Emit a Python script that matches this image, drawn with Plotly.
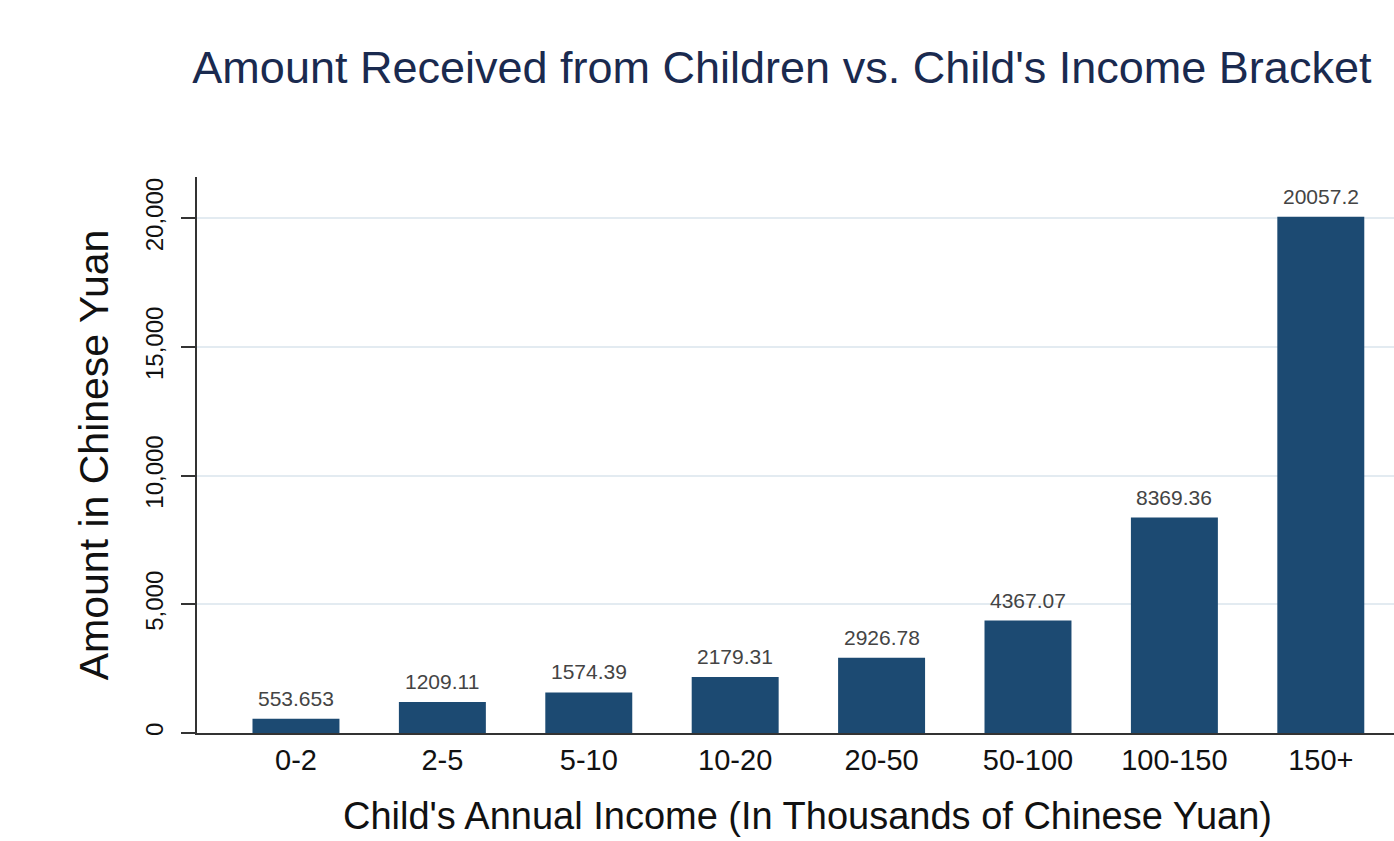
import plotly.graph_objects as go

categories = ["0-2", "2-5", "5-10", "10-20", "20-50", "50-100", "100-150", "150+"]
amounts = [553.653, 1209.11, 1574.39, 2179.31, 2926.78, 4367.07, 8369.36, 20057.2]
labels = ["553.653", "1209.11", "1574.39", "2179.31", "2926.78", "4367.07", "8369.36", "20057.2"]
ytick_vals = [0, 5000, 10000, 15000, 20000]
ytick_text = ["0", "5,000", "10,000", "15,000", "20,000"]

FONT = "Liberation Sans, Arial, Helvetica, sans-serif"
xs = list(range(len(categories)))

fig = go.Figure(go.Bar(
    x=xs,
    y=amounts,
    marker=dict(color="#1c4a72", line=dict(width=0)),
    width=0.594,
    hoverinfo="skip",
))

for xi, yi, lab in zip(xs, amounts, labels):
    fig.add_annotation(
        x=xi, y=yi, xref="x", yref="y", text=lab, showarrow=False,
        yanchor="bottom", xanchor="center", yshift=7,
        font=dict(family=FONT, size=21, color="#444444"),
    )

fig.add_annotation(
    text="Child's Annual Income (In Thousands of Chinese Yuan)",
    xref="paper", yref="paper", x=0.5104, y=-0.149,
    xanchor="center", yanchor="middle", showarrow=False,
    font=dict(family=FONT, size=38, color="#111111"),
)

fig.update_layout(
    width=1394, height=841,
    margin=dict(l=197, r=0, t=177, b=108),
    paper_bgcolor="white", plot_bgcolor="white",
    showlegend=False,
    title=dict(
        text="Amount Received from Children vs. Child's Income Bracket",
        font=dict(family=FONT, size=45, color="#1a2a4f"),
        x=0.138, xanchor="left", y=0.92, yanchor="middle",
    ),
    xaxis=dict(
        range=[-0.676, 7.5],
        tickmode="array",
        tickvals=xs,
        ticktext=categories,
        tickfont=dict(family=FONT, size=29, color="#111111"),
        ticks="",
        showgrid=False,
        showline=True, linecolor="#333333", linewidth=2,
        zeroline=False,
    ),
    yaxis=dict(
        range=[0, 21600],
        tickmode="array",
        tickvals=ytick_vals,
        ticktext=ytick_text,
        tickangle=-90,
        tickfont=dict(family=FONT, size=24, color="#111111"),
        ticks="outside", ticklen=14, tickwidth=1.5, tickcolor="#333333",
        ticklabelstandoff=8,
        showgrid=True, gridcolor="#e3ebf1", gridwidth=1.5,
        showline=True, linecolor="#333333", linewidth=2,
        zeroline=False,
        title=dict(text="Amount in Chinese Yuan",
                   font=dict(family=FONT, size=41, color="#111111"), standoff=20),
    ),
)

fig.write_html("out.html")
